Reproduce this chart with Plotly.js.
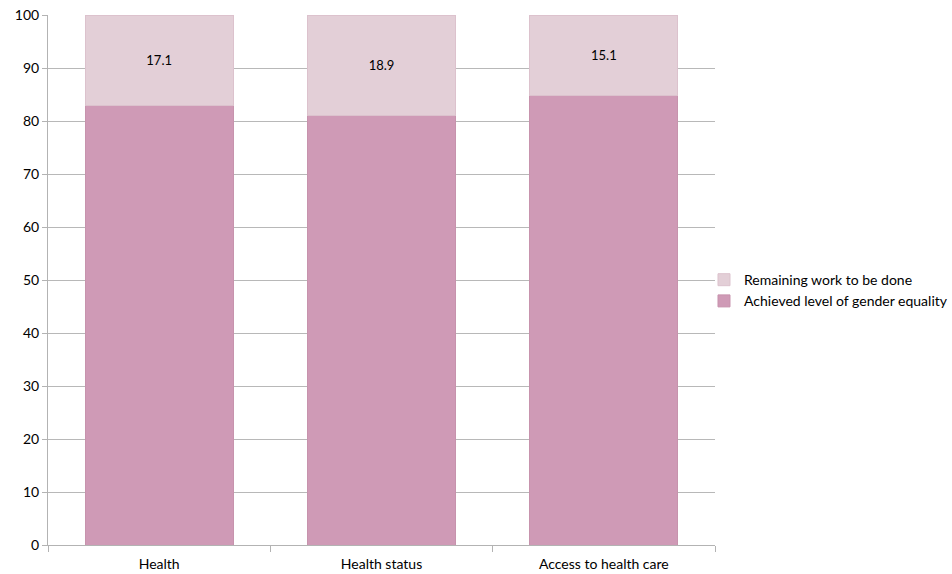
<!DOCTYPE html>
<html>
<head>
<meta charset="utf-8">
<script src="https://cdn.plot.ly/plotly-3.0.1.min.js"></script>
<style>html,body{margin:0;padding:0;background:#fff;}#chart{width:952px;height:574px;}</style>
</head>
<body>
<div id="chart"></div>
<script>
var categories = ["Health", "Health status", "Access to health care"];
var achieved = [82.9, 81.1, 84.9];
var remaining = [17.1, 18.9, 15.1];
var remainingLabels = ["17.1", "18.9", "15.1"];
var seriesNames = ["Achieved level of gender equality", "Remaining work to be done"];
var yTicks = [0, 10, 20, 30, 40, 50, 60, 70, 80, 90, 100];

var traces = [
  {
    type: "bar", x: categories, y: achieved, name: seriesNames[0],
    marker: {color: "#cf9ab6", line: {color: "#c793ad", width: 1}},
    hoverinfo: "none"
  },
  {
    type: "bar", x: categories, y: remaining, name: seriesNames[1],
    marker: {color: "#e3cfd7", line: {color: "#dcc2cd", width: 1}},
    text: remainingLabels, textposition: "inside", insidetextanchor: "middle",
    textfont: {family: "Lato, 'Open Sans', sans-serif", size: 13, color: "#000"},
    hoverinfo: "none"
  }
];

var layout = {
  width: 952, height: 574,
  margin: {l: 48, r: 237, t: 15, b: 29, autoexpand: false},
  paper_bgcolor: "#fff", plot_bgcolor: "#fff",
  barmode: "stack", bargap: 0.333,
  font: {family: "Lato, 'Open Sans', sans-serif", size: 14, color: "#000"},
  showlegend: true,
  legend: {x: 0.9835, y: 0.48, yanchor: "middle", xanchor: "left", traceorder: "reversed",
    bgcolor: "rgba(0,0,0,0)",
    font: {size: 14, color: "#000"}, itemwidth: 30, tracegroupgap: 0},
  xaxis: {
    showline: true, linecolor: "#b3b3b3", linewidth: 1,
    ticks: "outside", tickson: "boundaries", ticklen: 6, tickcolor: "#b3b3b3",
    ticklabelstandoff: 6,
    showgrid: false, tickfont: {size: 14}, fixedrange: true
  },
  yaxis: {
    range: [0, 100], tickvals: yTicks, ticks: "outside", ticklen: 5, tickcolor: "#b3b3b3",
    showline: true, linecolor: "#b3b3b3", linewidth: 1,
    showgrid: true, gridcolor: "#b8b8b8", gridwidth: 1, zeroline: false,
    tickfont: {size: 14}, fixedrange: true
  }
};

Plotly.newPlot("chart", traces, layout, {displayModeBar: false, staticPlot: true});
</script>
</body>
</html>
